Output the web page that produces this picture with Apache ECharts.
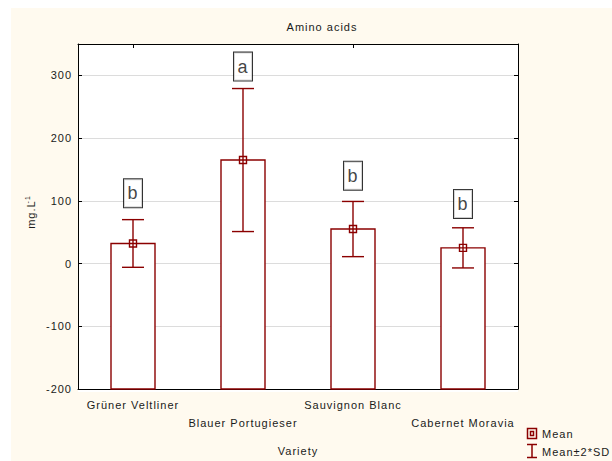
<!DOCTYPE html>
<html>
<head>
<meta charset="utf-8">
<script src="https://cdn.jsdelivr.net/npm/echarts@6/dist/echarts.min.js"></script>
<style>
  html, body { margin: 0; padding: 0; background: #ffffff; }
  #wrap { position: relative; width: 612px; height: 461px; overflow: hidden; }
  #panel { position: absolute; left: 11px; top: 8px; right: 0; bottom: 0; background: #fffaef; }
  #plotbg { position: absolute; left: 78px; top: 44px; width: 440px; height: 348px; background: #ffffff; }
  #chart { position: absolute; left: 0; top: 0; width: 612px; height: 461px; }
  /* loose tracking of the small sans text */
  #chart svg text { letter-spacing: 1px; }
</style>
</head>
<body>
<div id="wrap">
  <div id="panel"></div>
  <div id="plotbg"></div>
  <div id="chart"></div>
</div>
<script>
// Amino acid content by grape variety: mean and mean ± 2·SD
const varieties = ['Grüner Veltliner', 'Blauer Portugieser', 'Sauvignon Blanc', 'Cabernet Moravia'];
const means = [32, 165, 55, 25];
const twoSD = [38, 114, 44, 32];
const groupLetters = ['b', 'a', 'b', 'b'];
const letterLevels = [112, 314, 140, 95];
const yTicks = { min: -200, max: 350, step: 100 };
const legendLabels = ['Mean', 'Mean±2*SD'];

const RED = '#8b0000';
const FONT = '"Liberation Sans", Arial, sans-serif';
const TEXT = '#1a1a1a';

const chart = echarts.init(document.getElementById('chart'), null, { renderer: 'svg' });

const barData = varieties.map((v, i) => [i, means[i]]);
const errData = varieties.map((v, i) => [i, means[i] - twoSD[i], means[i] + twoSD[i]]);
const meanData = varieties.map((v, i) => [i, means[i]]);
const letterData = varieties.map((v, i) => [i, letterLevels[i], groupLetters[i]]);

// key in the lower right corner: hollow double square for the mean, whisker for ±2·SD
const keyStroke = { stroke: RED, fill: 'none', lineWidth: 1.5 };
const keyText = { fill: TEXT, fontSize: 11, fontFamily: FONT, verticalAlign: 'middle' };
const legendGraphic = [
  { type: 'rect', shape: { x: 527.5, y: 428.5, width: 9, height: 10 }, style: keyStroke, silent: true },
  { type: 'rect', shape: { x: 530.5, y: 431.5, width: 3, height: 4 }, style: keyStroke, silent: true },
  { type: 'text', x: 542, y: 433.5, style: Object.assign({ text: legendLabels[0] }, keyText), silent: true },
  { type: 'line', shape: { x1: 532, y1: 444, x2: 532, y2: 458 }, style: keyStroke, silent: true },
  { type: 'line', shape: { x1: 527, y1: 444.5, x2: 537, y2: 444.5 }, style: keyStroke, silent: true },
  { type: 'line', shape: { x1: 527, y1: 457.5, x2: 537, y2: 457.5 }, style: keyStroke, silent: true },
  { type: 'text', x: 542, y: 451.5, style: Object.assign({ text: legendLabels[1] }, keyText), silent: true }
];

const tickStyle = { show: true, inside: true, length: 4, lineStyle: { color: '#000', width: 1 } };

const option = {
  animation: false,
  textStyle: { fontFamily: FONT },
  title: {
    text: 'Amino acids',
    left: 317, top: 16, textAlign: 'center',
    textStyle: { fontSize: 11, fontWeight: 'normal', color: TEXT, fontFamily: FONT }
  },
  graphic: legendGraphic,
  grid: { left: 78, top: 44, width: 440, height: 348, show: false },
  xAxis: [{
    type: 'category', data: varieties, boundaryGap: true, position: 'bottom',
    name: 'Variety', nameLocation: 'middle', nameGap: 56,
    nameTextStyle: { fontSize: 11, color: TEXT, fontFamily: FONT },
    axisLine: { onZero: false, lineStyle: { color: '#000', width: 1 } },
    axisTick: Object.assign({ alignWithLabel: true }, tickStyle),
    axisLabel: {
      interval: 0, margin: 7, fontSize: 11, color: TEXT, fontFamily: FONT, lineHeight: 18,
      formatter: (v, idx) => (idx % 2 ? '\n' + v : v)
    },
    splitLine: { show: false }
  }, {
    type: 'category', data: varieties, boundaryGap: true, position: 'top',
    axisLine: { onZero: false, lineStyle: { color: '#000', width: 1 } },
    axisTick: Object.assign({ alignWithLabel: true }, tickStyle),
    axisLabel: { show: false }, splitLine: { show: false }
  }],
  yAxis: [{
    type: 'value', min: yTicks.min, max: yTicks.max, interval: yTicks.step, position: 'left',
    name: 'mg.L{sup|-1}', nameLocation: 'middle', nameGap: 41, nameRotate: 90,
    nameTextStyle: {
      fontSize: 11, color: TEXT, fontFamily: FONT, padding: [0, 0, 0, 10],
      rich: { sup: { fontSize: 7, verticalAlign: 'top', padding: [0, 0, 6, 0], color: TEXT, fontFamily: FONT } }
    },
    axisLine: { show: true, onZero: false, lineStyle: { color: '#000', width: 1 } },
    axisTick: tickStyle,
    axisLabel: { margin: 6, fontSize: 11, color: TEXT, fontFamily: FONT, showMaxLabel: false },
    splitLine: { show: true, lineStyle: { color: '#dcdcdc', width: 1 } }
  }, {
    type: 'value', min: yTicks.min, max: yTicks.max, interval: yTicks.step, position: 'right',
    axisLine: { show: true, onZero: false, lineStyle: { color: '#000', width: 1 } },
    axisTick: tickStyle,
    axisLabel: { show: false }, splitLine: { show: false }
  }],
  series: [
    {
      // bars drawn from the bottom of the value axis up to each mean
      name: 'bars', type: 'custom', silent: true, z: 2,
      data: barData,
      encode: { x: 0, y: 1 },
      renderItem: (params, api) => {
        const i = api.value(0);
        const top = api.coord([i, api.value(1)]);
        const base = api.coord([i, yTicks.min]);
        const bw = api.size([1, 0])[0] * 0.4;
        return {
          type: 'rect',
          shape: { x: top[0] - bw / 2, y: top[1], width: bw, height: base[1] - top[1] },
          style: { fill: '#ffffff', stroke: RED, lineWidth: 1.4 }
        };
      }
    },
    {
      name: 'Mean±2*SD', type: 'custom', silent: true, z: 3,
      data: errData,
      encode: { x: 0, y: [1, 2] },
      renderItem: (params, api) => {
        const i = api.value(0);
        const lo = api.coord([i, api.value(1)]);
        const hi = api.coord([i, api.value(2)]);
        const cw = api.size([1, 0])[0] * 0.2;
        const st = { stroke: RED, lineWidth: 1.4 };
        return {
          type: 'group',
          children: [
            { type: 'line', shape: { x1: lo[0], y1: lo[1], x2: hi[0], y2: hi[1] }, style: st },
            { type: 'line', shape: { x1: hi[0] - cw / 2, y1: hi[1], x2: hi[0] + cw / 2, y2: hi[1] }, style: st },
            { type: 'line', shape: { x1: lo[0] - cw / 2, y1: lo[1], x2: lo[0] + cw / 2, y2: lo[1] }, style: st }
          ]
        };
      }
    },
    {
      name: 'Mean', type: 'scatter', silent: true, z: 4,
      data: meanData,
      symbol: 'rect', symbolSize: 7,
      itemStyle: { color: 'rgba(0,0,0,0)', borderColor: RED, borderWidth: 1.4, opacity: 1 }
    },
    {
      // homogeneous group letters
      name: 'groups', type: 'scatter', silent: true, z: 5,
      data: letterData,
      symbolSize: 0,
      label: {
        show: true, position: 'inside',
        formatter: p => p.data[2],
        fontSize: 18, lineHeight: 20, color: '#111', fontFamily: FONT,
        backgroundColor: '#ffffff', borderColor: '#000', borderWidth: 1,
        padding: [4, 4, 4, 4]
      }
    }
  ]
};

chart.setOption(option);
</script>
</body>
</html>
